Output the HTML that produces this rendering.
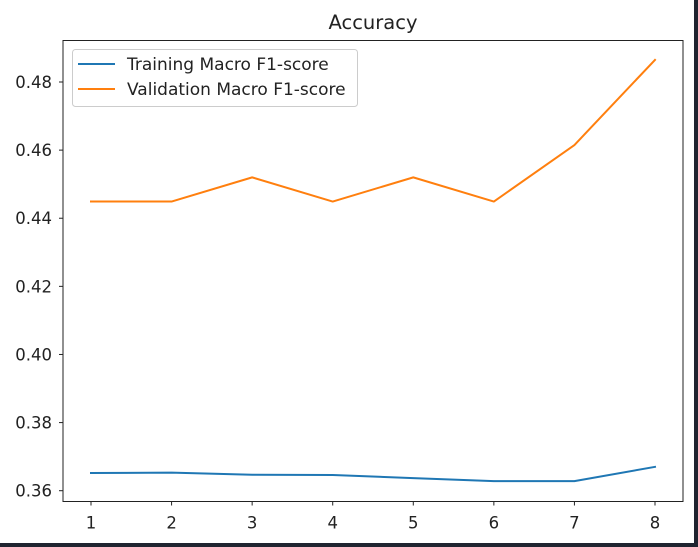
<!DOCTYPE html>
<html><head><meta charset="utf-8"><style>
html,body{margin:0;padding:0;background:#1f2430;}
#wrap{position:relative;width:698px;height:547px;background:#1f2430;}
svg{position:absolute;left:0;top:0;}
text{font-family:"DejaVu Sans","Liberation Sans",sans-serif;fill:#222;}
</style></head><body>
<div id="wrap">
<svg id="chart" width="698" height="547">
<rect x="0" y="0" width="694" height="543" fill="#fff"/>
</svg>
</div>
<script>
const epochs=[1,2,3,4,5,6,7,8];
const trainF1=[0.3652,0.3653,0.3647,0.3646,0.3637,0.3628,0.3628,0.3670];
const valF1=[0.4449,0.4449,0.4520,0.4449,0.4520,0.4449,0.4615,0.4865];
const yTicks=[0.36,0.38,0.40,0.42,0.44,0.46,0.48];
const yTickLabels=["0.36","0.38","0.40","0.42","0.44","0.46","0.48"];
const seriesNames=["Training Macro F1-score","Validation Macro F1-score"];
const NS="http://www.w3.org/2000/svg";
const svg=document.getElementById('chart');
const L=63,R=683,T=40.5,B=501.5;
const x=v=>91+(v-1)*(655-91)/7;
const y=v=>490.7-(v-0.36)*(490.7-82)/0.12;
function mk(tag,at){const e=document.createElementNS(NS,tag);for(const k in at)e.setAttribute(k,at[k]);svg.appendChild(e);return e;}
let t=mk('text',{x:373,y:29,'text-anchor':'middle','font-size':'19.5'});t.textContent='Accuracy';


yTicks.forEach((v,i)=>{
 const l=mk('line',{x1:L-4,x2:L,y1:y(v),y2:y(v),stroke:'#222','stroke-width':1});
 
 
 const tx=mk('text',{x:L-11,y:y(v)+6,'text-anchor':'end','font-size':'16.5'});tx.textContent=yTickLabels[i];
 
 
});
epochs.forEach(v=>{
 const l=mk('line',{x1:x(v),x2:x(v),y1:B,y2:B+4,stroke:'#222','stroke-width':1});
 
 
 const tx=mk('text',{x:x(v),y:B+27,'text-anchor':'middle','font-size':'16.5'});tx.textContent=String(v);
 
 
});
function line(data,color,name){
 const p=mk('polyline',{points:data.map((v,i)=>x(epochs[i])+','+y(v)).join(' '),fill:'none',stroke:color,'stroke-width':2,'stroke-linejoin':'round','stroke-linecap':'square'});
 
 
}
line(trainF1,'#1f77b4','training-f1-line');
line(valF1,'#ff7f0e','validation-f1-line');
const fr=mk('rect',{x:L,y:T,width:R-L,height:B-T,fill:'none',stroke:'#222','stroke-width':1});


const lg=mk('rect',{x:72.5,y:49.5,width:285,height:57,rx:3,fill:'#fff','fill-opacity':0.8,stroke:'#ccc','stroke-width':1});


[['#1f77b4',64],['#ff7f0e',89]].forEach((c,i)=>{
 const l=mk('line',{x1:78,x2:115,y1:c[1],y2:c[1],stroke:c[0],'stroke-width':2});
 
 
 const tx=mk('text',{x:127,y:c[1]+6,'font-size':'17'});tx.textContent=seriesNames[i];
 
 
});
</script>
</body></html>
